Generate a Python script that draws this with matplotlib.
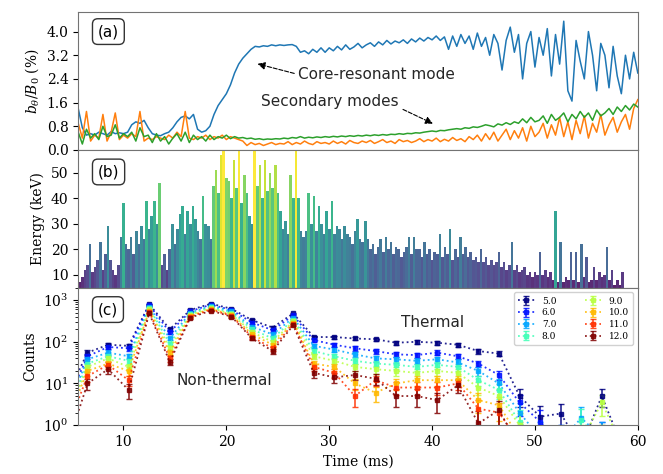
import numpy as np
import matplotlib as mpl
mpl.use("Agg")
import matplotlib.pyplot as plt

plt.rcParams['font.family'] = ['DejaVu Serif']
plt.rcParams['mathtext.fontset'] = 'dejavuserif'
plt.rcParams['font.size'] = 10

#%% datos panel (a): amplitud de modos, paso 0.4 ms desde 5.6 ms
t0_a = 5.6
dt_a = 0.4
core_mode = [
    1.40, 0.75, 0.50, 0.55, 0.50, 0.60, 0.55, 0.50, 0.62, 0.55,
    0.58, 0.55, 0.60, 0.85, 0.95, 0.90, 1.00, 0.75, 0.55, 0.50,
    0.48, 0.55, 0.60, 0.75, 0.95, 1.10, 1.15, 1.05, 1.20, 0.70,
    0.60, 0.65, 0.80, 1.20, 1.50, 1.70, 1.90, 2.20, 2.60, 2.90,
    3.10, 3.25, 3.40, 3.50, 3.48, 3.52, 3.50, 3.55, 3.52, 3.55,
    3.53, 3.55, 3.56, 3.50, 3.30, 3.35, 3.25, 3.40, 3.30, 3.45,
    3.30, 3.45, 3.35, 3.50, 3.38, 3.55, 3.40, 3.48, 3.60, 3.45,
    3.55, 3.62, 3.50, 3.65, 3.55, 3.70, 3.58, 3.68, 3.62, 3.72,
    3.60, 3.75, 3.65, 3.78, 3.68, 3.80, 3.72, 3.85, 3.70, 3.82,
    3.40, 3.85, 3.50, 3.90, 3.60, 3.85, 3.40, 3.95, 3.50, 3.80,
    3.20, 3.90, 3.60, 2.70, 3.70, 4.15, 3.30, 3.90, 2.40, 3.60,
    4.00, 2.80, 3.80, 3.20, 4.10, 2.50, 3.90, 2.90, 4.35, 2.00,
    1.65, 3.70, 3.00, 2.40, 4.00, 3.20, 2.00, 3.60, 3.20, 2.10,
    3.50, 2.50, 1.90, 3.20, 2.40, 3.30, 2.60]
mode_orange = [
    0.90, 0.40, 1.30, 0.30, 0.50, 0.40, 1.20, 0.30, 0.60, 1.25,
    0.35, 0.50, 0.40, 0.55, 0.45, 1.30, 0.30, 0.40, 0.35, 0.45,
    0.40, 0.35, 0.50, 0.40, 0.60, 0.45, 1.30, 0.40, 0.35, 0.45,
    0.40, 0.50, 0.35, 0.45, 0.40, 0.50, 0.35, 0.45, 0.40, 0.35,
    0.30, 0.15, 0.25, 0.18, 0.22, 0.15, 0.20, 0.25, 0.18, 0.22,
    0.20, 0.28, 0.18, 0.25, 0.20, 0.30, 0.22, 0.18, 0.28, 0.22,
    0.25, 0.20, 0.30, 0.22, 0.28, 0.20, 0.32, 0.25, 0.22, 0.30,
    0.25, 0.32, 0.22, 0.28, 0.35, 0.25, 0.30, 0.22, 0.35, 0.28,
    0.32, 0.25, 0.30, 0.38, 0.28, 0.35, 0.30, 0.40, 0.28, 0.36,
    0.30, 0.42, 0.32, 0.38, 0.28, 0.45, 0.35, 0.50, 0.30, 0.55,
    0.35, 0.60, 0.30, 0.50, 0.70, 0.35, 0.65, 0.40, 0.75, 0.30,
    0.80, 0.45, 0.60, 0.90, 0.40, 0.85, 0.50, 1.10, 0.45, 0.95,
    0.35, 1.00, 0.55, 1.15, 0.40, 0.90, 0.60, 1.20, 0.50, 0.85,
    1.10, 0.60, 0.95, 1.20, 0.70, 1.40, 1.70]
mode_green = [
    0.60, 0.20, 0.70, 0.40, 0.55, 0.35, 0.80, 0.45, 0.50, 0.85,
    0.40, 0.55, 0.45, 0.60, 0.30, 0.75, 0.45, 0.50, 0.25, 0.55,
    0.30, 0.45, 0.20, 0.40, 0.55, 0.30, 0.60, 0.25, 0.50, 0.35,
    0.45, 0.30, 0.50, 0.35, 0.45, 0.40, 0.50, 0.38, 0.45, 0.40,
    0.42, 0.38, 0.40, 0.36, 0.38, 0.35, 0.37, 0.36, 0.38, 0.37,
    0.40, 0.38, 0.42, 0.40, 0.45, 0.40, 0.43, 0.41, 0.44, 0.42,
    0.45, 0.43, 0.46, 0.44, 0.47, 0.45, 0.48, 0.46, 0.49, 0.47,
    0.50, 0.48, 0.51, 0.49, 0.52, 0.50, 0.53, 0.52, 0.55, 0.53,
    0.56, 0.55, 0.58, 0.57, 0.60, 0.62, 0.64, 0.62, 0.66, 0.65,
    0.68, 0.70, 0.72, 0.70, 0.75, 0.73, 0.78, 0.76, 0.80, 0.85,
    0.82, 0.78, 0.88, 0.84, 0.92, 0.86, 0.95, 0.90, 1.05, 0.92,
    1.10, 0.95, 1.00, 1.15, 0.90, 1.20, 1.00, 1.10, 1.25, 0.95,
    1.20, 1.05, 1.30, 1.10, 1.25, 1.00, 1.35, 1.15, 1.25, 1.40,
    1.20, 1.45, 1.30, 1.50, 1.35, 1.55, 1.45]

#%% datos panel (b): energia, paso 0.25 ms desde 5.75 ms
t0_b = 5.75
dt_b = 0.25
energy = [
    7, 9, 12, 14,   22, 11, 13, 16,   23, 12, 18, 29,   16, 12, 10, 14,
    25, 38, 22, 20,  25, 18, 27, 22,  29, 24, 39, 28,   33, 39, 30, 46,
    14, 18, 12, 20,  30, 22, 28, 34,  37, 26, 35, 30,   37, 32, 27, 24,
    41, 30, 29, 24,  45, 51, 42, 57,  60, 48, 47, 40,   55, 44, 60, 38,
    49, 42, 33, 30,  60, 45, 53, 40,  55, 43, 50, 44,   53, 42, 35, 28,
    31, 26, 49, 40,  59, 40, 27, 25,  27, 42, 30, 41,   27, 37, 30, 26,
    35, 28, 39, 26,  29, 28, 24, 29,  26, 25, 22, 27,   32, 24, 23, 31,
    24, 20, 22, 18,  21, 24, 19, 25,  20, 23, 18, 21,   20, 17, 19, 21,
    25, 18, 25, 20,  20, 17, 23, 18,  20, 16, 19, 18,   26, 17, 21, 18,
    28, 16, 20, 17,  25, 18, 21, 17,  19, 16, 17, 15,   20, 15, 17, 14,
    16, 14, 15, 19,  13, 15, 12, 14,  23, 12, 14, 11,   12, 13, 10, 11,
    9, 11, 10, 19,   10, 12, 9, 11,   8, 35, 7, 23,     7, 9, 8, 19,
    8, 19, 7, 22,    9, 17, 7, 8,     13, 8, 11, 9,     10, 21, 8, 12,
    6, 8, 6, 11]

#%% datos panel (c): cuentas por umbral de energia
t_c = [4.5, 6.5, 8.5, 10.5, 12.5, 14.5, 16.5, 18.5, 20.5, 22.5, 24.5, 26.5, 28.5,
       30.5, 32.5, 34.5, 36.5, 38.5, 40.5, 42.5, 44.5, 46.5, 48.5, 50.5, 52.5,
       54.5, 56.5, 58.5]
umbrales = ['5.0', '6.0', '7.0', '8.0', '9.0', '10.0', '11.0', '12.0']
counts_5 = [5, 55, 85, 80, 800, 200, 580, 820, 620, 330, 220, 480, 130,
            130, 120, 115, 95, 100, 95, 85, 60, 52, 5, 1.6, 1.9, 0.3, 5, 0.3]
counts_6 = [3.5, 45, 75, 70, 760, 170, 540, 780, 580, 290, 190, 430, 110,
            85, 70, 60, 50, 48, 55, 45, 30, 16, 3.5, 1.2, 0.4, 0.3, 0.5, 0.3]
counts_7 = [2.5, 38, 55, 45, 700, 120, 500, 720, 540, 230, 150, 380, 80,
            65, 50, 40, 38, 35, 38, 32, 20, 10, 2, 0.5, 0.4, 1.5, 0.5, 0.3]
counts_8 = [2, 30, 45, 35, 650, 90, 470, 680, 500, 200, 120, 340, 60,
            45, 35, 30, 28, 25, 28, 25, 12, 7, 1.2, 0.4, 0.3, 1.3, 0.4, 0.3]
counts_9 = [1.5, 25, 40, 25, 600, 70, 440, 650, 460, 170, 100, 310, 45,
            35, 25, 22, 20, 18, 20, 18, 8, 5, 1, 0.3, 0.3, 0.4, 3.5, 0.3]
counts_10 = [1.2, 20, 30, 20, 560, 55, 420, 620, 440, 150, 85, 290, 30,
             25, 10, 6, 10, 12, 12, 12, 4, 3, 0.5, 0.3, 0.3, 0.3, 0.4, 0.3]
counts_11 = [0.8, 15, 28, 12, 520, 40, 400, 590, 420, 130, 70, 270, 25,
             18, 5, 12, 8, 8, 8, 10, 2.5, 2, 0.4, 0.3, 0.3, 0.3, 0.3, 0.3]
counts_12 = [0.3, 10, 22, 7, 480, 33, 380, 560, 400, 120, 60, 250, 18,
             14, 16, 13, 5, 5, 4, 9, 1.1, 2.3, 0.3, 0.3, 0.3, 0.3, 0.3, 0.3]
all_counts = [counts_5, counts_6, counts_7, counts_8,
              counts_9, counts_10, counts_11, counts_12]

#%% figura
fig = plt.figure(figsize=(6.63, 4.74), dpi=100)
gs = fig.add_gridspec(3, 1, left=0.118, right=0.962, top=0.974, bottom=0.103, hspace=0)
ax1 = fig.add_subplot(gs[0])
ax2 = fig.add_subplot(gs[1], sharex=ax1)
ax3 = fig.add_subplot(gs[2], sharex=ax1)

caja = dict(boxstyle='round,pad=0.35', fc='white', ec='0.2', lw=1.0)
sans = ['DejaVu Sans']

# --- panel (a) ---
ta = t0_a + dt_a * np.arange(len(core_mode))
ax1.plot(ta, core_mode, color='tab:blue', lw=1.1)
ax1.plot(ta, mode_orange, color='tab:orange', lw=1.1)
ax1.plot(ta, mode_green, color='tab:green', lw=1.1)
ax1.set_ylim(0, 4.65)
ax1.set_yticks([0.0, 0.8, 1.6, 2.4, 3.2, 4.0])
ax1.yaxis.set_major_formatter(mpl.ticker.FormatStrFormatter('%.1f'))
ax1.set_ylabel(r'$b_\theta/B_0$ (%)')
ax1.text(0.035, 0.86, '(a)', transform=ax1.transAxes, fontsize=11, family=sans,
         va='center', bbox=caja)
ax1.annotate('Core-resonant mode', xy=(22.9, 2.92), xytext=(27.0, 2.55),
             fontsize=11, family=sans, color='0.15', va='center', ha='left',
             arrowprops=dict(arrowstyle='-|>', color='k', lw=0.8, ls='--',
                             relpos=(0, 0.5), shrinkA=1, shrinkB=1))
ax1.annotate('Secondary modes', xy=(40.2, 0.87), xytext=(23.4, 1.63),
             fontsize=11, family=sans, color='0.15', va='center', ha='left',
             arrowprops=dict(arrowstyle='-|>', color='k', lw=0.8, ls='--',
                             relpos=(0.98, 0.2), shrinkA=1, shrinkB=1))

# --- panel (b) ---
tb = t0_b + dt_b * np.arange(len(energy))
norm = mpl.colors.Normalize(vmin=5, vmax=60)
ax2.bar(tb, energy, width=0.25, color=plt.cm.viridis(norm(np.array(energy))),
        alpha=0.9, lw=0)
ax2.set_ylim(5, 59)
ax2.set_yticks([10, 20, 30, 40, 50])
ax2.set_ylabel('Energy (keV)')
ax2.text(0.035, 0.84, '(b)', transform=ax2.transAxes, fontsize=11, family=sans,
         va='center', bbox=caja)

# --- panel (c) ---
colores = plt.cm.jet(np.linspace(0, 1, len(umbrales)))
for lab, cc, col in zip(umbrales, all_counts, colores):
    cc = np.array(cc)
    err = np.sqrt(cc)
    err_lo = np.minimum(err, 0.9 * cc)
    ax3.errorbar(t_c, cc, yerr=[err_lo, err], color=col, ls=':', lw=1.3,
                 marker='s', ms=3.5, capsize=2, elinewidth=1.2, alpha=0.85,
                 label=lab)
ax3.set_yscale('log')
ax3.set_ylim(1, 2000)
ax3.set_ylabel('Counts')
ax3.set_xlabel('Time (ms)')
ax3.text(0.035, 0.84, '(c)', transform=ax3.transAxes, fontsize=11, family=sans,
         va='center', bbox=caja)
ax3.text(40.0, 290, 'Thermal', fontsize=11, family=sans, color='0.15',
         ha='center', va='center')
ax3.text(19.8, 12, 'Non-thermal', fontsize=11, family=sans, color='0.15',
         ha='center', va='center')
ax3.legend(loc='upper right', ncol=2, fontsize=6.5, handlelength=1.8,
           columnspacing=3.2, labelspacing=0.3, borderpad=0.5, framealpha=0.9)

ax1.set_xlim(5.6, 60)
ax3.set_xticks([10, 20, 30, 40, 50, 60])
for ax in (ax1, ax2):
    ax.tick_params(labelbottom=False, bottom=False)
for ax in (ax1, ax2, ax3):
    for sp in ax.spines.values():
        sp.set_color('0.45')

plt.savefig('out.png', dpi=100)
